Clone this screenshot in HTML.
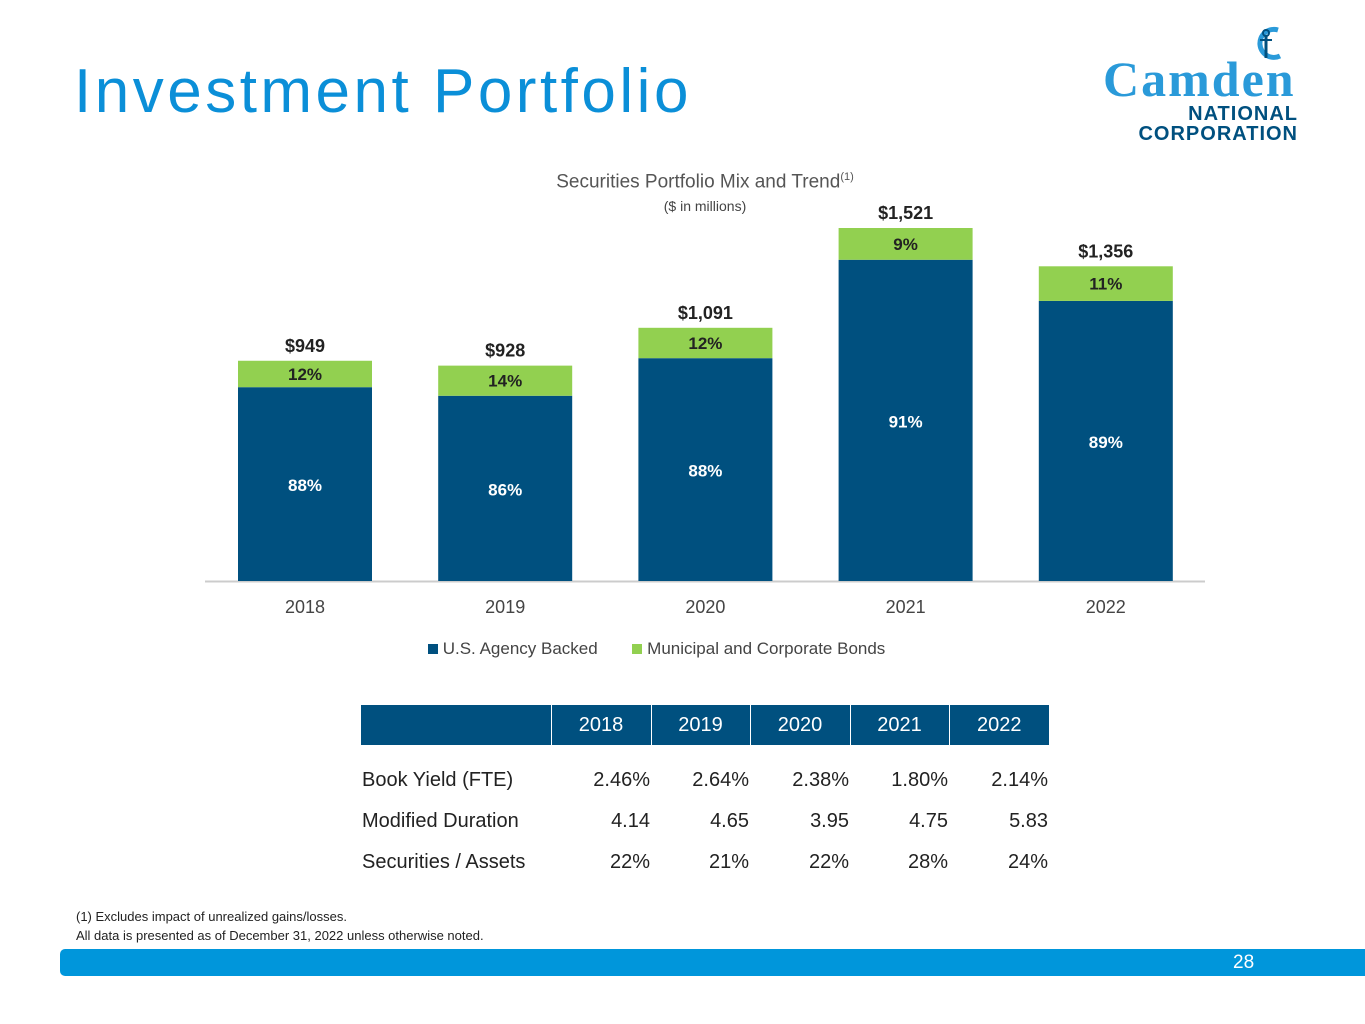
<!DOCTYPE html>
<html><head><meta charset="utf-8"><style>
body{margin:0;width:1365px;height:1024px;background:#fff;position:relative;overflow:hidden;font-family:"Liberation Sans",sans-serif}
.a{position:absolute}
td{padding:0 1px}
</style></head><body>
<div class="a" style="left:74px;top:56px;font-size:62px;color:#0b8fd8;letter-spacing:3.5px">Investment Portfolio</div>
<div class="a" style="left:1100px;top:22px;width:200px;height:125px">
<svg width="200" height="125"><path d="M178 8 A14 14 0 1 0 180 34" fill="none" stroke="#2a9ad9" stroke-width="5"/><line x1="166" y1="14" x2="166" y2="36" stroke="#00507f" stroke-width="3"/><circle cx="166" cy="11" r="3" fill="none" stroke="#00507f" stroke-width="2"/><line x1="160" y1="18" x2="172" y2="18" stroke="#00507f" stroke-width="2"/></svg>
<div class="a" style="left:3px;top:28px;font-family:'Liberation Serif',serif;font-weight:bold;font-size:50px;color:#2a9ad9;letter-spacing:2px">Camden</div>
<div class="a" style="right:2px;top:82px;font-size:20px;font-weight:bold;color:#00507f;letter-spacing:1px;text-align:right;line-height:20px">NATIONAL<br>CORPORATION</div>
</div>
<div class="a" style="left:405px;width:600px;top:171px;text-align:center;font-size:19px;color:#555">Securities Portfolio Mix and Trend<sup style="font-size:11px">(1)</sup></div>
<div class="a" style="left:405px;width:600px;top:198px;text-align:center;font-size:14px;color:#444">($ in millions)</div>
<svg class="a" style="left:0;top:0" width="1365" height="700" id="chart"></svg>
<div class="a" style="left:428px;top:639px;font-size:17px;color:#444">
<span><span style="display:inline-block;width:10px;height:10px;background:#00507f"></span> U.S. Agency Backed</span>
<span style="margin-left:30px"><span style="display:inline-block;width:10px;height:10px;background:#92d050"></span> Municipal and Corporate Bonds</span>
</div>
<table class="a" style="left:361px;top:705px;border-collapse:collapse;font-size:20px;color:#222;table-layout:fixed;width:688px">
<colgroup><col style="width:190px"><col style="width:100px"><col style="width:99px"><col style="width:100px"><col style="width:99px"><col style="width:100px"></colgroup>
<tr style="background:#00507f;color:#fff;height:40px"><td style="border-right:1px solid #fff"></td><td style="text-align:center;border-right:1px solid #fff">2018</td><td style="text-align:center;border-right:1px solid #fff">2019</td><td style="text-align:center;border-right:1px solid #fff">2020</td><td style="text-align:center;border-right:1px solid #fff">2021</td><td style="text-align:center">2022</td></tr>
<tr style="height:47px;vertical-align:bottom"><td>Book Yield (FTE)</td><td align="right">2.46%</td><td align="right">2.64%</td><td align="right">2.38%</td><td align="right">1.80%</td><td align="right">2.14%</td></tr>
<tr style="height:41px;vertical-align:bottom"><td>Modified Duration</td><td align="right">4.14</td><td align="right">4.65</td><td align="right">3.95</td><td align="right">4.75</td><td align="right">5.83</td></tr>
<tr style="height:41px;vertical-align:bottom"><td>Securities / Assets</td><td align="right">22%</td><td align="right">21%</td><td align="right">22%</td><td align="right">28%</td><td align="right">24%</td></tr>
</table>
<div class="a" style="left:76px;top:907px;font-size:13px;color:#222;line-height:19px">(1) Excludes impact of unrealized gains/losses.<br>All data is presented as of December 31, 2022 unless otherwise noted.</div>
<div class="a" style="left:60px;top:949px;width:1305px;height:27px;background:#0096db;border-radius:5px 0 0 5px"></div>
<div class="a" style="left:1233px;top:952px;font-size:19px;color:#fff">28</div>
<script>
const years=["2018","2019","2020","2021","2022"];
const totals=[949,928,1091,1521,1356];
const agencyPct=[88,86,88,91,89];
const muniPct=[12,14,12,9,11];
const totalLabels=["$949","$928","$1,091","$1,521","$1,356"];
const svg=document.getElementById('chart');const NS='http://www.w3.org/2000/svg';
const base=581,scale=353/1521,x0=238,step=200.2,bw=134;
function y(v){return base-v*scale}
function mk(t,a,txt){const e=document.createElementNS(NS,t);for(const k in a)e.setAttribute(k,a[k]);if(txt)e.textContent=txt;svg.appendChild(e);return e}
const ax=mk('line',{x1:205,x2:1205,y1:base+0.5,y2:base+0.5,stroke:'#ccc','stroke-width':2});


years.forEach((yr,i)=>{
 const x=x0+i*step,top=y(totals[i]),split=y(totals[i]*agencyPct[i]/(agencyPct[i]+muniPct[i])),cx=x+bw/2;
 const b=mk('rect',{x:x,y:split,width:bw,height:base-split,fill:'#00507f'});
 
 
 const g=mk('rect',{x:x,y:top,width:bw,height:split-top,fill:'#92d050'});
 
 
 const t1=mk('text',{x:cx,y:(split+base)/2+7,'text-anchor':'middle','font-size':17,'font-weight':'bold',fill:'#fff'},agencyPct[i]+'%');
 
 
 const t2=mk('text',{x:cx,y:(top+split)/2+6,'text-anchor':'middle','font-size':17,'font-weight':'bold',fill:'#222'},muniPct[i]+'%');
 
 
 const t3=mk('text',{x:cx,y:top-9,'text-anchor':'middle','font-size':18,'font-weight':'bold',fill:'#222'},totalLabels[i]);
 
 
 const t4=mk('text',{x:cx,y:613,'text-anchor':'middle','font-size':18,fill:'#444'},yr);
 
 
});
</script>
</body></html>
